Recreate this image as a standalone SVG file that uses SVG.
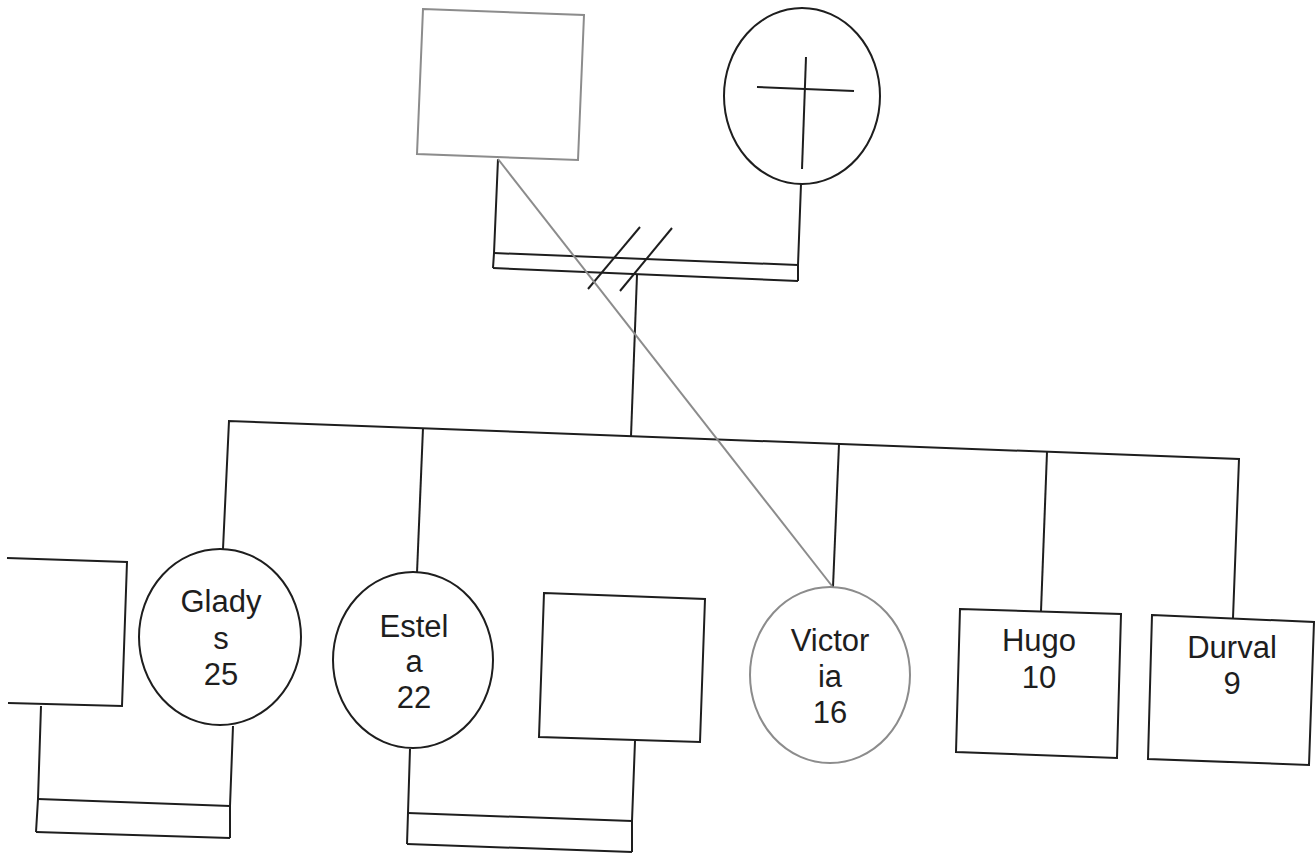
<svg xmlns="http://www.w3.org/2000/svg" width="1316" height="857" viewBox="0 0 1316 857">
<style>
.ln{fill:none;stroke:#1e1e1e;stroke-width:2;stroke-linejoin:miter}
.gr{fill:none;stroke:#8c8c8c;stroke-width:2}
.sh{fill:#ffffff;stroke:#1e1e1e;stroke-width:2}
.shg{fill:#ffffff;stroke:#8c8c8c;stroke-width:2}
.t{font-family:"Liberation Sans",Arial,sans-serif;font-size:31px;fill:#1e1e1e;text-anchor:middle}
</style>
<rect width="1316" height="857" fill="#ffffff"/>
<g id="connectors">
  <!-- parents marriage -->
  <polyline class="ln" points="498,159 494,253 493,268"/>
  <polyline class="ln" points="801,184 798,265 798,281"/>
  <line class="ln" x1="494" y1="253" x2="798" y2="265"/>
  <line class="ln" x1="493" y1="268" x2="798" y2="281"/>
  <line class="ln" x1="588" y1="289" x2="640" y2="227"/>
  <line class="ln" x1="620" y1="291" x2="672" y2="228"/>
  <!-- descent -->
  <line class="ln" x1="637" y1="275" x2="631" y2="436"/>
  <!-- sibling line -->
  <polyline class="ln" points="223,549 229,421 1239,459 1233,618"/>
  <line class="ln" x1="423" y1="428" x2="417" y2="573"/>
  <line class="ln" x1="839" y1="444" x2="833" y2="587"/>
  <line class="ln" x1="1047" y1="452" x2="1041" y2="611"/>
  <!-- Gladys marriage -->
  <polyline class="ln" points="41,706 38,799 36,832"/>
  <polyline class="ln" points="233,726 230,806 230,838"/>
  <line class="ln" x1="38" y1="799" x2="230" y2="806"/>
  <line class="ln" x1="36" y1="832" x2="230" y2="838"/>
  <!-- Estela marriage -->
  <polyline class="ln" points="410,749 408,813 407,844"/>
  <polyline class="ln" points="635,741 632,821 632,852"/>
  <line class="ln" x1="408" y1="813" x2="632" y2="821"/>
  <line class="ln" x1="407" y1="844" x2="632" y2="852"/>
  <!-- grey line to Victoria -->
  <line class="gr" x1="498" y1="159" x2="832" y2="586"/>
</g>
<g id="father">
  <polygon class="shg" points="423,9 584,15 578,160 417,154"/>
</g>
<g id="mother">
  <ellipse class="sh" cx="802" cy="96" rx="78" ry="88"/>
  <line class="ln" x1="757" y1="87" x2="854" y2="91"/>
  <line class="ln" x1="806" y1="57" x2="802" y2="169"/>
</g>
<g id="partner-gladys">
  <polyline class="ln" points="7,558 127,562 122,706 8,703"/>
</g>
<g id="gladys">
  <ellipse class="sh" cx="220" cy="637" rx="81" ry="88"/>
  <text class="t" x="221" y="612">Glady</text>
  <text class="t" x="221" y="649">s</text>
  <text class="t" x="221" y="685">25</text>
</g>
<g id="estela">
  <ellipse class="sh" cx="413" cy="660" rx="80" ry="88"/>
  <text class="t" x="414" y="637">Estel</text>
  <text class="t" x="414" y="672">a</text>
  <text class="t" x="414" y="708">22</text>
</g>
<g id="partner-estela">
  <polygon class="sh" points="544,593 705,599 700,742 539,737"/>
</g>
<g id="victoria">
  <ellipse class="shg" cx="830" cy="675" rx="80" ry="88"/>
  <text class="t" x="830" y="651">Victor</text>
  <text class="t" x="830" y="687">ia</text>
  <text class="t" x="830" y="723">16</text>
</g>
<g id="hugo">
  <polygon class="sh" points="960,609 1121,614 1117,758 956,752"/>
  <text class="t" x="1039" y="651">Hugo</text>
  <text class="t" x="1039" y="688">10</text>
</g>
<g id="durval">
  <polygon class="sh" points="1152,615 1314,622 1309,765 1148,759"/>
  <text class="t" x="1232" y="658">Durval</text>
  <text class="t" x="1232" y="694">9</text>
</g>
</svg>
